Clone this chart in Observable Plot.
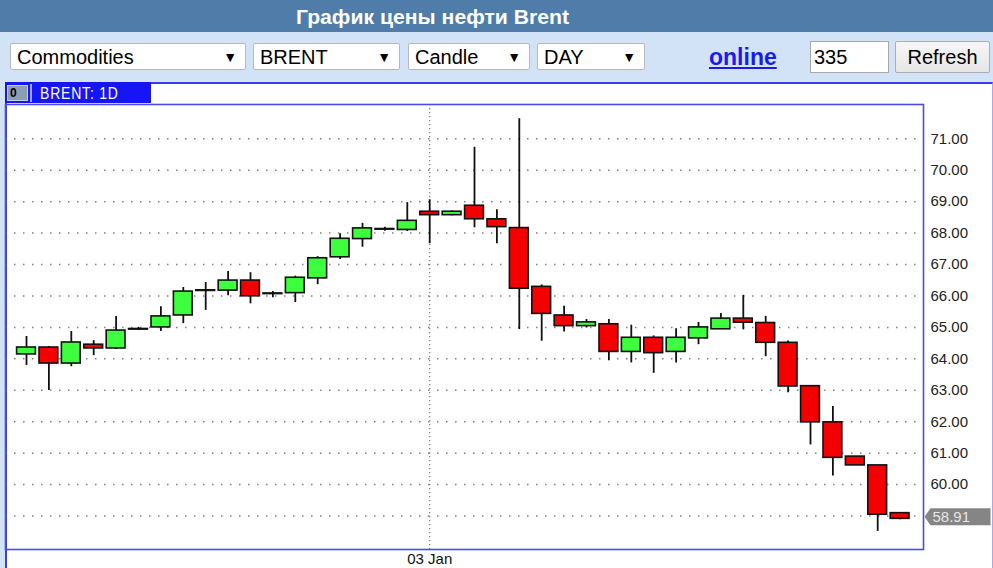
<!DOCTYPE html>
<html><head><meta charset="utf-8">
<script src="https://cdn.jsdelivr.net/npm/d3@7"></script>
<script src="https://cdn.jsdelivr.net/npm/@observablehq/plot@0.6"></script>
<style>
body{margin:0;width:993px;height:568px;overflow:hidden;background:#d2e3f8;font-family:Arial,"Liberation Sans",sans-serif;position:relative}
.abs{position:absolute;box-sizing:border-box}
#hdr{left:0;top:0;width:993px;height:32px;background:#4f7ca8}
#title{left:0;top:0;width:865px;height:32px;line-height:34px;text-align:center;color:#fff;font-weight:bold;font-size:20px;transform:scaleX(1.06);transform-origin:432px 16px}
.sel{background:#fff;border:1px solid #b8b8b8;border-radius:2px;height:27px;top:43px;font-size:20px;line-height:27px;padding-left:6px;color:#000}
.sel .arr{position:absolute;right:8px;top:0;font-size:14px;line-height:27px}
#online{left:709px;top:44px;font-size:23px;font-weight:bold;color:#1a1aee;text-decoration:underline}
#inp{left:810px;top:41px;width:79px;height:32px;background:#fff;border:1px solid #a8a8a8;font-size:20px;line-height:31px;padding-left:3px}
#btn{left:895px;top:41px;width:95px;height:32px;background:linear-gradient(#f6f6f6,#e6e6e6);border:1px solid #adadad;border-radius:2px;font-size:20px;line-height:31px;text-align:center}
#panel{left:5px;top:82px;width:988px;height:486px;background:#fff;border-top:2px solid #3a3aee;border-left:2px solid #3a3aee;border-right:1px solid #a8a8f0}
#tab{left:5px;top:82px;width:146px;height:21px;background:#1515f5}
#tabtxt{left:40px;top:84px;color:#fff;font-size:14px;line-height:18px;letter-spacing:0.8px;transform:scaleY(1.12)}
#ico{left:7px;top:85px;width:21px;height:16px;background:#8d9db5;border:1px solid #c8d0e0;font-size:12px;font-weight:bold;line-height:14px;padding-left:2px;color:#000}
#sep{left:30px;top:84px;width:2px;height:18px;background:#9aa8ff}
#chart{left:0;top:103px}
</style></head>
<body>
<div class="abs" id="hdr"></div>
<div class="abs" id="title">График цены нефти Brent</div>
<div class="abs sel" style="left:10px;width:236px">Commodities<span class="arr">▼</span></div>
<div class="abs sel" style="left:253px;width:147px">BRENT<span class="arr">▼</span></div>
<div class="abs sel" style="left:408px;width:122px">Candle<span class="arr">▼</span></div>
<div class="abs sel" style="left:537px;width:108px">DAY<span class="arr">▼</span></div>
<div class="abs" id="online">online</div>
<div class="abs" id="inp">335</div>
<div class="abs" id="btn">Refresh</div>
<div class="abs" id="panel"></div>
<div class="abs" id="tab"></div>
<div class="abs" id="ico">0</div>
<div class="abs" id="sep"></div>
<div class="abs" id="tabtxt">BRENT: 1D</div>
<div class="abs" id="chart"></div>
<script>
// Daily candles (index 0..39)
const opens  = [64.14,64.36,63.85,64.45,64.33,64.93,65.00,65.38,66.16,66.17,66.49,66.08,66.09,66.56,67.23,67.81,68.11,68.10,68.68,68.57,68.87,68.44,68.16,66.29,65.38,65.04,65.10,64.22,64.67,64.22,64.65,64.94,65.28,65.14,64.51,63.13,61.98,60.89,60.61,59.09];
const highs  = [64.71,64.39,64.87,64.58,65.35,65.00,65.66,66.27,66.43,66.78,66.74,66.14,66.63,67.25,67.98,68.31,68.19,68.97,69.06,68.70,70.73,68.74,71.64,66.35,65.67,65.25,65.25,65.07,64.73,64.96,65.16,65.44,66.02,65.35,64.57,63.13,62.48,60.89,60.61,59.09];
const lows   = [63.79,62.99,63.75,64.10,64.30,64.90,64.87,65.12,65.54,66.01,65.75,65.94,65.79,66.36,67.16,67.55,68.06,68.05,67.66,68.55,68.17,67.66,64.93,64.56,64.85,64.98,63.94,63.87,63.54,63.87,64.45,64.94,64.92,64.07,62.92,61.26,60.27,60.61,58.51,58.88];
const closes = [64.36,63.85,64.52,64.33,64.90,64.95,65.35,66.14,66.18,66.49,65.99,66.06,66.58,67.20,67.82,68.15,68.13,68.39,68.57,68.68,68.44,68.19,66.23,65.43,65.04,65.16,64.22,64.67,64.18,64.67,65.00,65.28,65.15,64.51,63.12,61.98,60.85,60.61,59.04,58.91];
const gridValues  = [59,60,61,62,63,64,65,66,67,68,69,70,71];
const labelValues = [60,61,62,63,64,65,66,67,68,69,70,71];
const dateTicks   = [18];
const dateLabels  = ["03 Jan"];
const lastPrice   = [58.91];

const data = opens.map((o, i) => ({i, open: o, high: highs[i], low: lows[i], close: closes[i]}));

const tagSymbol = {
  draw(ctx) {
    ctx.moveTo(1, 0);
    ctx.lineTo(7, -8.5);
    ctx.lineTo(67, -8.5);
    ctx.lineTo(67, 8.5);
    ctx.lineTo(7, 8.5);
    ctx.closePath();
  }
};

const chart = Plot.plot({
  width: 993,
  height: 465,
  marginLeft: 5,
  marginRight: 70,
  marginTop: 1,
  marginBottom: 19,
  x: {type: "linear", domain: [0, 39], range: [26, 899.6], label: null},
  y: {domain: [59, 71], range: [412.5, 35.3], label: null},
  style: {background: "transparent", fontFamily: "Arial, 'Liberation Sans', sans-serif", fontSize: "15px", color: "#222"},
  marks: [
    Plot.ruleY(gridValues, {stroke: "#808080", strokeWidth: 1.5, strokeDasharray: "1.5 7.5", strokeOpacity: 1}),
    Plot.ruleX(dateTicks, {stroke: "#808080", strokeWidth: 1.3, strokeDasharray: "1.3 2.7"}),
    Plot.ruleX(data, {x: "i", y1: "low", y2: "high", stroke: "#111", strokeWidth: 1.8}),
    Plot.rect(data, {
      x1: d => d.i - 0.42, x2: d => d.i + 0.42, y1: "open", y2: "close",
      fill: d => d.close > d.open ? "#3dff3d" : "#f50000",
      stroke: "#111", strokeWidth: 1.6
    }),
    Plot.frame({stroke: "#4a4aea", strokeWidth: 1.6}),
    Plot.axisY(labelValues, {anchor: "right", label: null, tickSize: 0, tickPadding: 7, tickFormat: d => d.toFixed(2), fill: "#222", fontSize: 15}),
    Plot.axisX(dateTicks, {anchor: "bottom", label: null, tickSize: 0, tickPadding: 4, tickFormat: d => dateLabels[dateTicks.indexOf(d)], fill: "#111", fontSize: 15}),
    Plot.dot(lastPrice, {y: d => d, frameAnchor: "right", symbol: tagSymbol, fill: "#858585", stroke: "none", dy: -2}),
    Plot.text(lastPrice, {y: d => d, frameAnchor: "right", dx: 9, dy: -2, textAnchor: "start", text: d => d.toFixed(2), fill: "#e6e6e6", fontSize: 15})
  ]
});
document.getElementById("chart").appendChild(chart);
</script>
</body></html>
